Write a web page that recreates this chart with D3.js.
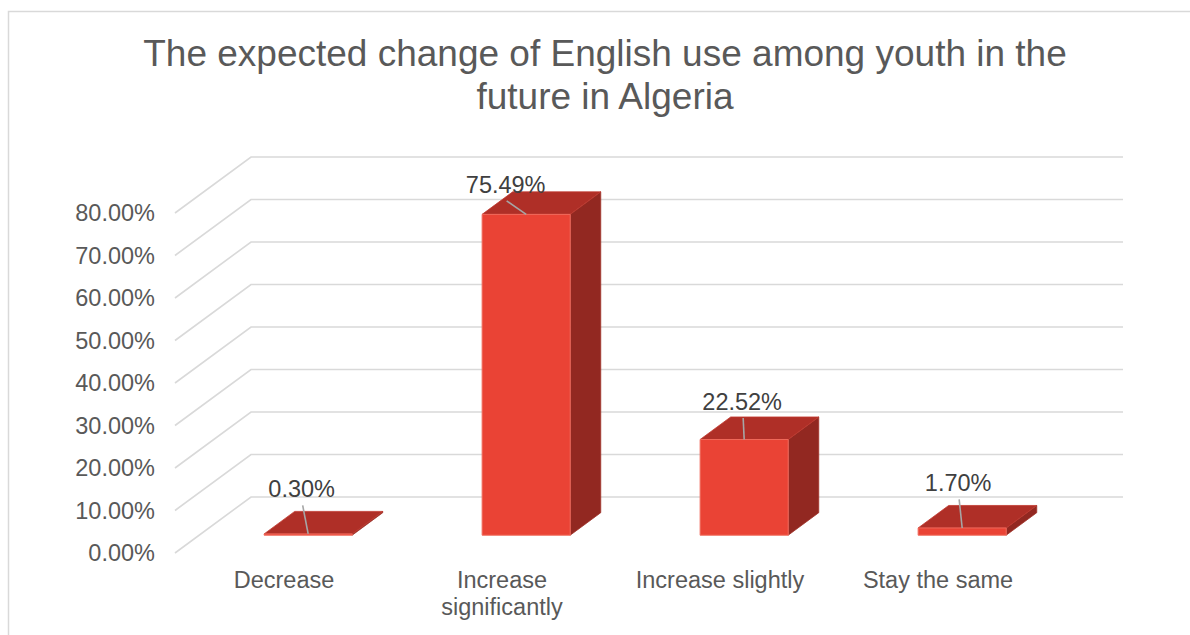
<!DOCTYPE html>
<html>
<head>
<meta charset="utf-8">
<script src="https://cdn.jsdelivr.net/npm/d3@7"></script>
<style>
  html, body { margin: 0; padding: 0; background: #ffffff; }
  svg { display: block; font-family: "Liberation Sans", Arial, sans-serif; }
</style>
</head>
<body>
<svg id="chart" width="1190" height="635"></svg>
<script>
// Survey answers and their shares (percent)
const categories = ["Decrease", "Increase significantly", "Increase slightly", "Stay the same"];
const shares = [0.30, 75.49, 22.52, 1.70];
const valueLabels = ["0.30%", "75.49%", "22.52%", "1.70%"];
const tickValues = [0, 10, 20, 30, 40, 50, 60, 70, 80];
const titleLines = ["The expected change of English use among youth in the", "future in Algeria"];

const svg = d3.select("#chart");

// Oblique 3D frame: front plane + depth offset towards the back wall
const front = { x0: 175, x1: 1047, yZero: 553, yTop: 213 };
const depth = { dx: 76, dy: -56 };
const barDepth = [0.318, 0.72];   // bar slab position inside the floor depth
const barWidthRatio = 0.404;

const x = d3.scaleBand().domain(categories).range([front.x0, front.x1]).padding(0);
const y = d3.scaleLinear().domain([0, 80]).range([front.yZero, front.yTop]);

// project a point (screen x on front plane, value, depth fraction)
const proj = (px, v, z) => [px + z * depth.dx, y(v) + z * depth.dy];

// Chart border
svg.append("rect")
  .attr("x", 8.5).attr("y", 11.5)
  .attr("width", 1300).attr("height", 800)
  .attr("fill", "none").attr("stroke", "#d9d9d9").attr("stroke-width", 1.5);

// Title
svg.append("text")
  .attr("x", 605).attr("y", 66)
  .attr("text-anchor", "middle")
  .attr("fill", "#595959")
  .style("font-size", "37px")
  .selectAll("tspan").data(titleLines).join("tspan")
  .attr("x", 605).attr("dy", (d, i) => i === 0 ? 0 : 43)
  .text(d => d);

// Gridlines: side wall diagonal + back wall horizontal
const grid = svg.append("g").attr("stroke", "#d9d9d9").attr("stroke-width", 1.6).attr("fill", "none");
grid.selectAll("path").data(tickValues).join("path")
  .attr("d", t => {
    const a = proj(front.x0, t, 0);
    const b = proj(front.x0, t, 1);
    const c = proj(front.x1, t, 1);
    return d3.line()([a, b, c]);
  });

// Value axis labels
const yAxis = d3.axisLeft(y).tickValues(tickValues).tickSize(0).tickPadding(0)
  .tickFormat(d => d3.format(".2f")(d) + "%");
const axisG = svg.append("g").attr("transform", `translate(${front.x0 - 20},0)`).call(yAxis);
axisG.select(".domain").remove();
axisG.selectAll("text")
  .attr("fill", "#595959")
  .style("font-size", "23.5px")
  .style("font-family", "\"Liberation Sans\", Arial, sans-serif");

// Bars
const bars = svg.append("g");
categories.forEach((c, i) => {
  const v = shares[i];
  const cx = x(c) + x.bandwidth() / 2;
  const w = x.bandwidth() * barWidthRatio;
  const xl = cx - w / 2, xr = cx + w / 2;
  const [z0, z1] = barDepth;
  const fbl = proj(xl, 0, z0), fbr = proj(xr, 0, z0), ftl = proj(xl, v, z0), ftr = proj(xr, v, z0);
  const btl = proj(xl, v, z1), btr = proj(xr, v, z1), bbr = proj(xr, 0, z1);
  const g = bars.append("g");
  g.append("path").attr("d", d3.line()([ftr, btr, bbr, fbr]) + "Z")
    .attr("fill", "#922821").attr("stroke", "#a0322a").attr("stroke-width", 0.8);
  g.append("path").attr("d", d3.line()([ftl, btl, btr, ftr]) + "Z")
    .attr("fill", "#af2f27").attr("stroke", "#c0392f").attr("stroke-width", 0.8);
  g.append("path").attr("d", d3.line()([fbl, ftl, ftr, fbr]) + "Z")
    .attr("fill", "#ea4335").attr("stroke", "#f06a5c").attr("stroke-width", 1);
});

// Data labels with leader lines (nudged like the manually placed labels)
const labelNudge = [[-6.5, -14], [-20.5, 1], [-2, -7], [-4, -14]];
const labels = svg.append("g");
categories.forEach((c, i) => {
  const v = shares[i];
  const cx = x(c) + x.bandwidth() / 2;
  const topFront = proj(cx, v, barDepth[0]);
  const topBack = proj(cx, v, barDepth[1]);
  const lx = topFront[0] + labelNudge[i][0];
  const ly = topBack[1] + labelNudge[i][1];
  labels.append("line")
    .attr("x1", lx + 1).attr("y1", ly + 8)
    .attr("x2", topFront[0]).attr("y2", topFront[1])
    .attr("stroke", "#a6a6a6").attr("stroke-width", 1.6);
  labels.append("text")
    .attr("x", lx).attr("y", ly)
    .attr("text-anchor", "middle")
    .attr("fill", "#404040")
    .style("font-size", "23.5px")
    .text(valueLabels[i]);
});

// Category labels along the front edge of the floor
const catG = svg.append("g");
categories.forEach(c => {
  const cx = x(c) + x.bandwidth() / 2;
  const words = c === "Increase significantly" ? ["Increase", "significantly"] : [c];
  const t = catG.append("text")
    .attr("text-anchor", "middle")
    .attr("fill", "#595959")
    .style("font-size", "23.5px");
  t.selectAll("tspan").data(words).join("tspan")
    .attr("x", cx).attr("y", (d, j) => 588 + j * 27)
    .text(d => d);
});
</script>
</body>
</html>
